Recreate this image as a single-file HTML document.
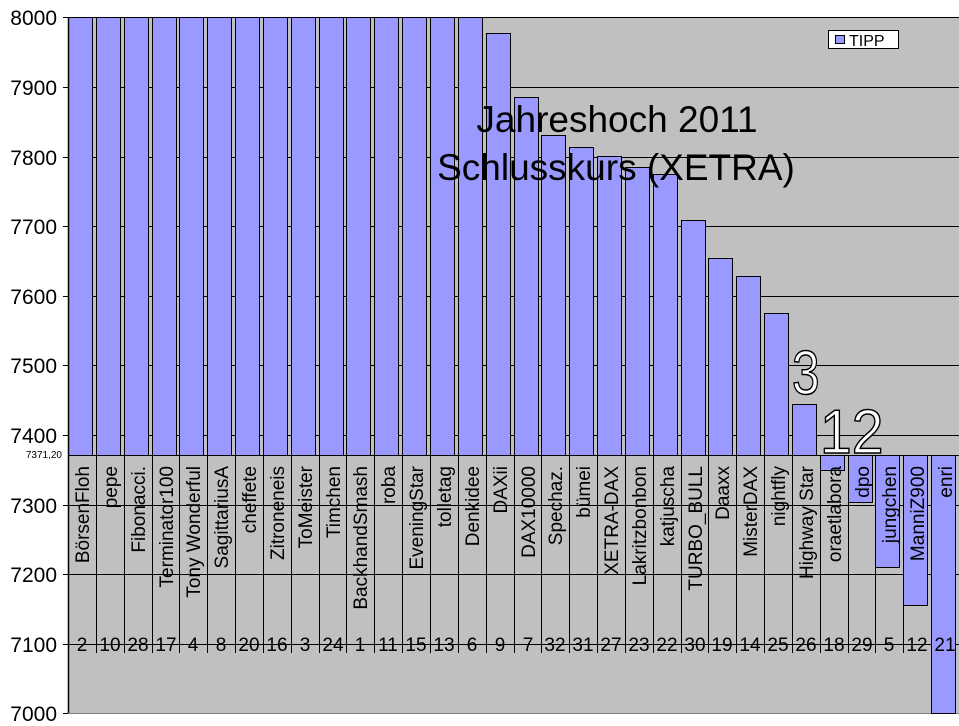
<!DOCTYPE html>
<html><head><meta charset="utf-8"><style>
html,body{margin:0;padding:0;background:#fff;}
svg{display:block;font-family:"Liberation Sans",sans-serif;}
</style></head><body>
<svg width="959" height="726" viewBox="0 0 959 726" xmlns="http://www.w3.org/2000/svg">
<rect x="68" y="17" width="891" height="696" fill="#c0c0c0"/>
<g stroke="#000" stroke-width="1">
<line x1="63" y1="17.5" x2="959" y2="17.5"/>
<line x1="63" y1="87.5" x2="959" y2="87.5"/>
<line x1="63" y1="157.5" x2="959" y2="157.5"/>
<line x1="63" y1="226.5" x2="959" y2="226.5"/>
<line x1="63" y1="296.5" x2="959" y2="296.5"/>
<line x1="63" y1="365.5" x2="959" y2="365.5"/>
<line x1="63" y1="435.5" x2="959" y2="435.5"/>
<line x1="63" y1="505.5" x2="959" y2="505.5"/>
<line x1="63" y1="574.5" x2="959" y2="574.5"/>
<line x1="63" y1="644.5" x2="959" y2="644.5"/>
<line x1="63" y1="713.5" x2="68" y2="713.5"/>
</g>
<line x1="68" y1="713.5" x2="959" y2="713.5" stroke="#808080"/>
<g fill="#9999ff" stroke="#000" stroke-width="1">
<rect x="68.5" y="17.5" width="24" height="438"/>
<rect x="96.5" y="17.5" width="24" height="438"/>
<rect x="124.5" y="17.5" width="24" height="438"/>
<rect x="152.5" y="17.5" width="24" height="438"/>
<rect x="179.5" y="17.5" width="24" height="438"/>
<rect x="207.5" y="17.5" width="24" height="438"/>
<rect x="235.5" y="17.5" width="24" height="438"/>
<rect x="263.5" y="17.5" width="24" height="438"/>
<rect x="291.5" y="17.5" width="24" height="438"/>
<rect x="319.5" y="17.5" width="24" height="438"/>
<rect x="346.5" y="17.5" width="24" height="438"/>
<rect x="374.5" y="17.5" width="24" height="438"/>
<rect x="402.5" y="17.5" width="24" height="438"/>
<rect x="430.5" y="17.5" width="24" height="438"/>
<rect x="458.5" y="17.5" width="24" height="438"/>
<rect x="486.5" y="33.5" width="24" height="422"/>
<rect x="514.5" y="97.5" width="24" height="358"/>
<rect x="541.5" y="135.5" width="24" height="320"/>
<rect x="569.5" y="147.5" width="24" height="308"/>
<rect x="597.5" y="156.5" width="24" height="299"/>
<rect x="625.5" y="167.5" width="24" height="288"/>
<rect x="653.5" y="174.5" width="24" height="281"/>
<rect x="681.5" y="220.5" width="24" height="235"/>
<rect x="708.5" y="258.5" width="24" height="197"/>
<rect x="736.5" y="276.5" width="24" height="179"/>
<rect x="764.5" y="313.5" width="24" height="142"/>
<rect x="792.5" y="404.5" width="24" height="51"/>
<rect x="820.5" y="455.5" width="24" height="15"/>
<rect x="848.5" y="455.5" width="24" height="47"/>
<rect x="875.5" y="455.5" width="24" height="112"/>
<rect x="903.5" y="455.5" width="24" height="150"/>
<rect x="931.5" y="455.5" width="24" height="258"/>
</g>
<g stroke="#000" stroke-width="1">
<line x1="96.5" y1="455" x2="96.5" y2="653"/>
<line x1="124.5" y1="455" x2="124.5" y2="653"/>
<line x1="152.5" y1="455" x2="152.5" y2="653"/>
<line x1="179.5" y1="455" x2="179.5" y2="653"/>
<line x1="207.5" y1="455" x2="207.5" y2="653"/>
<line x1="235.5" y1="455" x2="235.5" y2="653"/>
<line x1="263.5" y1="455" x2="263.5" y2="653"/>
<line x1="291.5" y1="455" x2="291.5" y2="653"/>
<line x1="319.5" y1="455" x2="319.5" y2="653"/>
<line x1="346.5" y1="455" x2="346.5" y2="653"/>
<line x1="374.5" y1="455" x2="374.5" y2="653"/>
<line x1="402.5" y1="455" x2="402.5" y2="653"/>
<line x1="430.5" y1="455" x2="430.5" y2="653"/>
<line x1="458.5" y1="455" x2="458.5" y2="653"/>
<line x1="486.5" y1="455" x2="486.5" y2="653"/>
<line x1="514.5" y1="455" x2="514.5" y2="653"/>
<line x1="541.5" y1="455" x2="541.5" y2="653"/>
<line x1="569.5" y1="455" x2="569.5" y2="653"/>
<line x1="597.5" y1="455" x2="597.5" y2="653"/>
<line x1="625.5" y1="455" x2="625.5" y2="653"/>
<line x1="653.5" y1="455" x2="653.5" y2="653"/>
<line x1="681.5" y1="455" x2="681.5" y2="653"/>
<line x1="708.5" y1="455" x2="708.5" y2="653"/>
<line x1="736.5" y1="455" x2="736.5" y2="653"/>
<line x1="764.5" y1="455" x2="764.5" y2="653"/>
<line x1="792.5" y1="455" x2="792.5" y2="653"/>
<line x1="820.5" y1="455" x2="820.5" y2="653"/>
<line x1="848.5" y1="455" x2="848.5" y2="653"/>
<line x1="875.5" y1="455" x2="875.5" y2="653"/>
<line x1="903.5" y1="455" x2="903.5" y2="653"/>
<line x1="931.5" y1="455" x2="931.5" y2="653"/>
</g>
<line x1="68" y1="455.5" x2="959" y2="455.5" stroke="#000"/>
<line x1="68.5" y1="17" x2="68.5" y2="713" stroke="#000" stroke-width="1.5"/>
<g font-size="19" fill="#000" text-anchor="end">
<text transform="translate(89 466) rotate(-90)">BörsenFloh</text>
<text transform="translate(117 466) rotate(-90)">pepe</text>
<text transform="translate(145 466) rotate(-90)">Fibonacci.</text>
<text transform="translate(173 466) rotate(-90)">Terminator100</text>
<text transform="translate(200 466) rotate(-90)">Tony Wonderful</text>
<text transform="translate(228 466) rotate(-90)">SagittariusA</text>
<text transform="translate(256 466) rotate(-90)">cheffete</text>
<text transform="translate(284 466) rotate(-90)">Zitroneneis</text>
<text transform="translate(312 466) rotate(-90)">ToMeister</text>
<text transform="translate(340 466) rotate(-90)">Timchen</text>
<text transform="translate(367 466) rotate(-90)">BackhandSmash</text>
<text transform="translate(395 466) rotate(-90)">roba</text>
<text transform="translate(423 466) rotate(-90)">EveningStar</text>
<text transform="translate(451 466) rotate(-90)">tolletag</text>
<text transform="translate(479 466) rotate(-90)">Denkidee</text>
<text transform="translate(507 466) rotate(-90)">DAXii</text>
<text transform="translate(535 466) rotate(-90)">DAX10000</text>
<text transform="translate(562 466) rotate(-90)">Spechaz.</text>
<text transform="translate(590 466) rotate(-90)">bümei</text>
<text transform="translate(618 466) rotate(-90)">XETRA-DAX</text>
<text transform="translate(646 466) rotate(-90)">Lakritzbonbon</text>
<text transform="translate(674 466) rotate(-90)">katjuscha</text>
<text transform="translate(702 466) rotate(-90)">TURBO_BULL</text>
<text transform="translate(729 466) rotate(-90)">Daaxx</text>
<text transform="translate(757 466) rotate(-90)">MisterDAX</text>
<text transform="translate(785 466) rotate(-90)">nightfly</text>
<text transform="translate(813 466) rotate(-90)">Highway Star</text>
<text transform="translate(841 466) rotate(-90)">oraetlabora</text>
<text transform="translate(869 466) rotate(-90)">dpo</text>
<text transform="translate(896 466) rotate(-90)">jungchen</text>
<text transform="translate(924 466) rotate(-90)">ManniZ900</text>
<text transform="translate(952 466) rotate(-90)">enri</text>
</g>
<g font-size="19" fill="#000" text-anchor="middle">
<text x="82" y="651">2</text><text x="110" y="651">10</text><text x="138" y="651">28</text><text x="166" y="651">17</text>
<text x="193" y="651">4</text><text x="221" y="651">8</text><text x="249" y="651">20</text><text x="277" y="651">16</text>
<text x="305" y="651">3</text><text x="333" y="651">24</text><text x="360" y="651">1</text><text x="388" y="651">11</text>
<text x="416" y="651">15</text><text x="444" y="651">13</text><text x="472" y="651">6</text><text x="500" y="651">9</text>
<text x="528" y="651">7</text><text x="555" y="651">32</text><text x="583" y="651">31</text><text x="611" y="651">27</text>
<text x="639" y="651">23</text><text x="667" y="651">22</text><text x="695" y="651">30</text><text x="722" y="651">19</text>
<text x="750" y="651">14</text><text x="778" y="651">25</text><text x="806" y="651">26</text><text x="834" y="651">18</text>
<text x="862" y="651">29</text><text x="889" y="651">5</text><text x="917" y="651">12</text><text x="945" y="651">21</text>
</g>
<g font-size="21" text-anchor="end" fill="#000">
<text x="57" y="25">8000</text>
<text x="57" y="95">7900</text>
<text x="57" y="165">7800</text>
<text x="57" y="234">7700</text>
<text x="57" y="304">7600</text>
<text x="57" y="373">7500</text>
<text x="57" y="443">7400</text>
<text x="57" y="513">7300</text>
<text x="57" y="582">7200</text>
<text x="57" y="652">7100</text>
<text x="57" y="721">7000</text>
</g>
<text x="62" y="458" font-size="10" text-anchor="end">7371,20</text>
<g font-size="37" text-anchor="middle" fill="#000">
<text x="617" y="132">Jahreshoch 2011</text>
<text x="616" y="180">Schlusskurs (XETRA)</text>
</g>
<rect x="828.5" y="30.5" width="70" height="18" fill="#fff" stroke="#000"/>
<rect x="835.5" y="35.5" width="9" height="8" fill="#9999ff" stroke="#000"/>
<text x="849" y="46" font-size="16">TIPP</text>
<g fill="#fff" stroke="#000" stroke-width="1.5" font-size="62">
<text transform="translate(792 394) scale(0.8 1)">3</text>
<text transform="translate(820 453) scale(0.92 1)">12</text>
</g>
</svg>
</body></html>
